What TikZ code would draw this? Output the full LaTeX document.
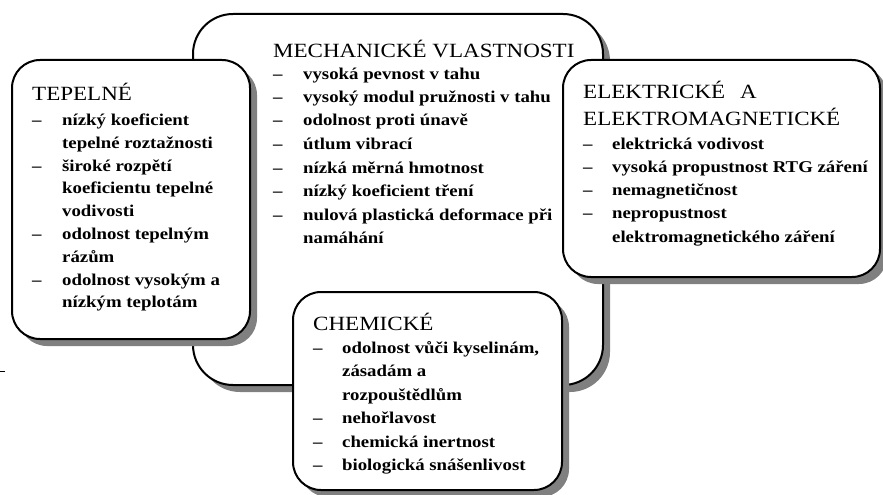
\documentclass[tikz,border=0pt]{standalone}
\usepackage{graphicx}
\usepackage{fontspec}
\setmainfont{Liberation Serif}
\usetikzlibrary{shadows}
\newcommand\itemfont[1]{\fontsize{16.5}{#1}\selectfont\bfseries}
\newcommand\titlefont{\fontsize{20.2}{23}\selectfont\mdseries}
\newcommand\widen[1]{\scalebox{1.14}[1]{#1}}
\tikzset{
  panel/.style={draw=black, line width=2pt, fill=white, rounded corners=28pt,
    inner sep=0pt,
    drop shadow={shadow xshift=7pt, shadow yshift=-7pt, fill=black!50, opacity=1}},
  bigpanel/.style={panel, rounded corners=40pt},
  txt/.style={anchor=base west, inner sep=0pt},
}
\begin{document}
\begin{tikzpicture}[x=1pt,y=-1pt]
\useasboundingbox (0,0) rectangle (883,495);
% panels
\node[bigpanel, minimum width=410pt, minimum height=371pt] (mech) at (398,199.5) {};
\node[panel, minimum width=238pt, minimum height=279pt] (tep) at (131,199.5) {};
\node[panel, minimum width=317pt, minimum height=217pt] (ele) at (721.5,168.5) {};
\node[panel, minimum width=269pt, minimum height=198pt] (chem) at (427.5,391) {};
% stray tick at left
\coordinate (tickA) at (0,371);
\coordinate (tickB) at (5,371);
\draw[line width=0.8pt] (tickA) -- (tickB);
% texts
\node[txt] (tepT) at (32,100) {\itemfont{22.8}\widen{\begin{tabular}[t]{@{}p{26.3pt}@{}l@{}}
\multicolumn{2}{@{}l@{}}{\titlefont TEPELNÉ}\\[2.7pt]
– & nízký koeficient\\
  & tepelné roztažnosti\\
– & široké rozpětí\\
  & koeficientu tepelné\\
  & vodivosti\\
– & odolnost tepelným\\
  & rázům\\
– & odolnost vysokým a\\
  & nízkým teplotám
\end{tabular}}};
\node[txt] (mechT) at (273,57) {\itemfont{23.5}\widen{\begin{tabular}[t]{@{}p{26.3pt}@{}l@{}}
\multicolumn{2}{@{}l@{}}{\titlefont MECHANICKÉ VLASTNOSTI}\\[-1.5pt]
– & vysoká pevnost v tahu\\
– & vysoký modul pružnosti v tahu\\
– & odolnost proti únavě\\
– & útlum vibrací\\
– & nízká měrná hmotnost\\
– & nízký koeficient tření\\
– & nulová plastická deformace při\\
  & namáhání
\end{tabular}}};
\node[txt] (eleT) at (583,98) {\itemfont{23.3}\widen{\begin{tabular}[t]{@{}p{25.4pt}@{}l@{}}
\multicolumn{2}{@{}l@{}}{\titlefont ELEKTRICKÉ\hspace{13pt}A}\\[3pt]
\multicolumn{2}{@{}l@{}}{\titlefont ELEKTROMAGNETICKÉ}\\[0.4pt]
– & elektrická vodivost\\
– & vysoká propustnost RTG záření\\
– & nemagnetičnost\\
– & nepropustnost\\
  & elektromagnetického záření
\end{tabular}}};
\node[txt] (chemT) at (313,330) {\itemfont{23.4}\widen{\begin{tabular}[t]{@{}p{25.4pt}@{}l@{}}
\multicolumn{2}{@{}l@{}}{\titlefont CHEMICKÉ}\\
– & odolnost vůči kyselinám,\\
  & zásadám a\\
  & rozpouštědlům\\
– & nehořlavost\\
– & chemická inertnost\\
– & biologická snášenlivost
\end{tabular}}};
\end{tikzpicture}
\end{document}
